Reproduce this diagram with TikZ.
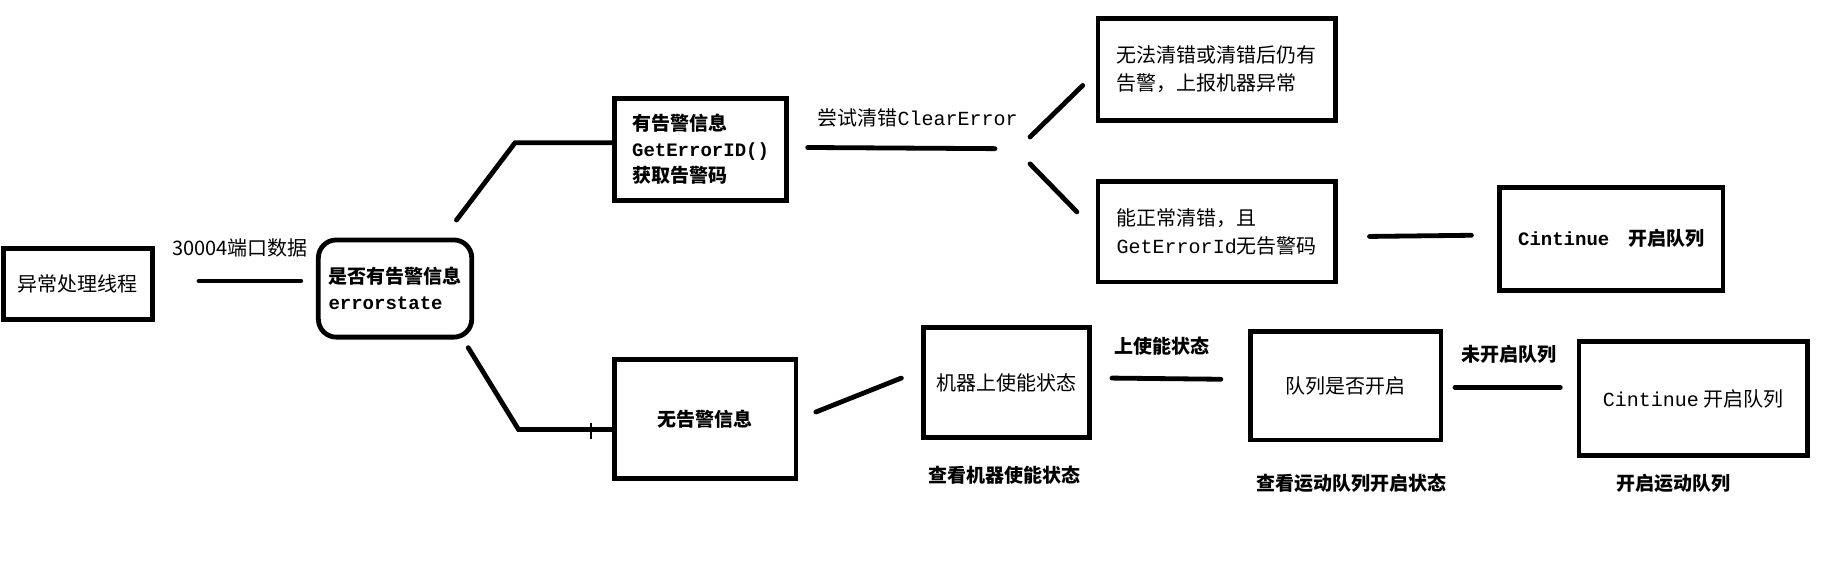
\documentclass[tikz,border=0pt]{standalone}
\usepackage{fontspec}
\setmainfont{Noto Sans CJK SC}
\setmonofont{Liberation Mono}
\usepackage{tikz}
\usetikzlibrary{positioning}

\begin{document}
\begin{tikzpicture}[x=0.5852pt, y=-0.5852pt, line width=2.4pt,
    box/.style = {draw, rectangle, align=left, font=\fontsize{10}{14}\selectfont},
    bbox/.style = {box, font=\fontsize{9.5}{13}\selectfont\bfseries},
    conn/.style = {line cap=round},
    lab/.style = {font=\fontsize{10}{12}\selectfont},
    blab/.style = {font=\fontsize{9.5}{12}\selectfont\bfseries}]
      \useasboundingbox (0, 0) rectangle (1560, 496.4);

      \node[box, minimum width=74.3pt, minimum height=35.7pt] (start) at (66.5, 242.5) {异常处理线程};
      \node[bbox, rounded corners=9pt, minimum width=76.7pt, minimum height=48.6pt] (check) at (337.5, 246.5) {是否有告警信息\\\texttt{errorstate}};
      \node[bbox, minimum width=86pt, minimum height=50.9pt] (alarm) at (598.5, 127.5) {有告警信息\\\texttt{GetErrorID()}\\获取告警码};
      \node[box, minimum width=118.8pt, minimum height=50.9pt] (fail) at (1039.5, 59.5) {无法清错或清错后仍有\\告警，上报机器异常};
      \node[box, minimum width=118.8pt, minimum height=50.3pt] (ok) at (1039.5, 198) {能正常清错，且\\\texttt{GetErrorId}无告警码};
      \node[bbox, minimum width=111.8pt, minimum height=51.5pt] (cont1) at (1376.5, 204) {\texttt{Cintinue}\quad 开启队列};
      \node[bbox, minimum width=90.7pt, minimum height=59.7pt] (noalarm) at (602.5, 358) {无告警信息};
      \node[box, minimum width=83.1pt, minimum height=55pt] (enable) at (860, 327) {机器上使能状态};
      \node[box, minimum width=95.4pt, minimum height=54.4pt] (queue) at (1149.5, 329.5) {队列是否开启};
      \node[box, minimum width=114.1pt, minimum height=56.8pt] (cont2) at (1446.5, 340.5) {\texttt{Cintinue} 开启队列};

      \node[lab] (port) at (205, 212) {30004端口数据};
      \node[lab] (clear) at (784, 101) {尝试清错\texttt{ClearError}};
      \node[blab] (on) at (993, 296) {上使能状态};
      \node[blab] (off) at (1289, 303) {未开启队列};
      \node[blab] (capenable) at (858, 406) {查看机器使能状态};
      \node[blab] (capqueue) at (1155, 413) {查看运动队列开启状态};
      \node[blab] (capstart) at (1430, 413) {开启运动队列};

      \coordinate (p1) at (170, 240);  \coordinate (p2) at (257, 240);
      \coordinate (u1) at (390, 188);  \coordinate (u2) at (440, 122);
      \coordinate (d1) at (400, 297);  \coordinate (d2) at (443, 367);
      \coordinate (tick) at (505, 368);
      \coordinate (c1) at (690, 126);  \coordinate (c2) at (850, 127);
      \coordinate (e1) at (880, 117);  \coordinate (e2) at (925, 73);
      \coordinate (f1) at (880, 140);  \coordinate (f2) at (920, 181);
      \coordinate (g1) at (1170, 202); \coordinate (g2) at (1257, 201);
      \coordinate (h1) at (697, 352);  \coordinate (h2) at (770, 323);
      \coordinate (k1) at (950, 323);  \coordinate (k2) at (1043, 324);
      \coordinate (m1) at (1243, 331); \coordinate (m2) at (1333, 331);

      \draw[conn] (p1) -- (p2);
      \draw[conn] (u1) -- (u2) -- (u2 -| alarm.west);
      \draw[conn] (d1) -- (d2) -- (d2 -| noalarm.west);
      \draw[line width=0.8pt] (tick) ++(0, -7) -- ++(0, 14);
      \draw[conn] (c1) -- (c2);
      \draw[conn] (e1) -- (e2);
      \draw[conn] (f1) -- (f2);
      \draw[conn] (g1) -- (g2);
      \draw[conn] (h1) -- (h2);
      \draw[conn] (k1) -- (k2);
      \draw[conn] (m1) -- (m2);

    \end{tikzpicture}
\end{document}
